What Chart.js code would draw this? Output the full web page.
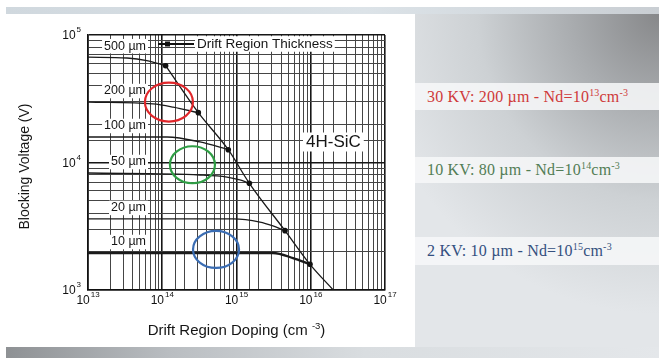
<!DOCTYPE html>
<html>
<head>
<meta charset="utf-8">
<script src="https://cdn.jsdelivr.net/npm/chart.js"></script>
<style>
  html, body { margin: 0; padding: 0; background: #fff; }
  body { width: 659px; height: 358px; position: relative; overflow: hidden; }
  #topBand { position: absolute; left: 6px; top: 7px; width: 653px; height: 7px;
    background: linear-gradient(to right, #d0d8de, #dce3e8 55%, #c9ced3); }
  #side { position: absolute; left: 415px; top: 14px; width: 244px; height: 333px;
    background: radial-gradient(ellipse 120% 90% at 100% 0%, #87888a 0%, #a9acaf 30%, #cdd1d4 62%, #e3e6e9 100%); }
  #bottomBand { position: absolute; left: 6px; top: 347px; width: 653px; height: 11px;
    background: linear-gradient(to right, #8e9194, #b9bdc1 25%, #d9dde0 55%, #e4e7ea); }
  .note { position: absolute; left: 415px; width: 244px; box-sizing: border-box; padding-left: 12px;
    background: rgba(246, 247, 248, 0.88); white-space: nowrap; letter-spacing: 0.2px;
    font-family: "Liberation Serif", "Times New Roman", serif; font-size: 16px; }
  .note sup { font-size: 10px; line-height: 0; vertical-align: 6px; }
  #n1 { top: 83px; height: 27px; line-height: 27px; color: #cf3a3a; }
  #n2 { top: 157px; height: 26px; line-height: 26px; color: #527d55; }
  #n3 { top: 237px; height: 28px; line-height: 28px; color: #33507f; }
  #chartBox { position: absolute; left: 5px; top: 14px; width: 410px; height: 333px; }
</style>
</head>
<body>
<div id="topBand"></div>
<div id="side"></div>
<div id="bottomBand"></div>
<div class="note" id="n1">30 KV: 200 µm - Nd=10<sup>13</sup>cm<sup>-3</sup></div>
<div class="note" id="n2">10 KV: 80 µm - Nd=10<sup>14</sup>cm<sup>-3</sup></div>
<div class="note" id="n3">2 KV: 10 µm - Nd=10<sup>15</sup>cm<sup>-3</sup></div>
<div id="chartBox"><canvas id="bvChart" width="410" height="333"></canvas></div>

<script>
// drift region thickness curves: doping (cm^-3) vs blocking voltage (V)
const thicknessNames = ['500 µm', '200 µm', '100 µm', '50 µm', '20 µm', '10 µm'];
const doping500 = [1e13, 3.35e13, 6.2e13, 1.11e14];
const volts500  = [6.7e4, 6.6e4, 6.3e4, 5.74e4];
const doping200 = [1e13, 7.5e13, 1.4e14, 3.06e14];
const volts200  = [2.98e4, 2.88e4, 2.72e4, 2.46e4];
const doping100 = [1e13, 1.16e14, 3.22e14, 7.75e14];
const volts100  = [1.585e4, 1.585e4, 1.45e4, 1.26e4];
const doping50  = [1e13, 3.22e14, 7.45e14, 1.11e15, 1.49e15];
const volts50   = [8.27e3, 7.98e3, 7.69e3, 7.3e3, 6.87e3];
const doping20  = [1e13, 8.98e14, 2.07e15, 3.1e15, 4.5e15];
const volts20   = [3.61e3, 3.61e3, 3.41e3, 3.18e3, 2.92e3];
const doping10  = [1e13, 3.1e15, 5.77e15, 9.77e15];
const volts10   = [1.95e3, 1.95e3, 1.78e3, 1.59e3];

// non punch-through limit
const dopingLimit = [1.11e14, 3.06e14, 7.75e14, 1.49e15, 4.5e15, 9.77e15, 2.01e16];
const voltsLimit  = [5.74e4, 2.46e4, 1.26e4, 6.87e3, 2.92e3, 1.59e3, 1.0e3];

// highlighted design points
const ringColors = ['#e0262a', '#2f9e45', '#3b6db3'];
const ringDoping = [1.23e14, 2.55e14, 5.3e14];
const ringVolts  = [2.98e4, 9.6e3, 2.08e3];

// decade tick labels (powers of ten)
const xTickExp = [13, 14, 15, 16, 17];
const yTickExp = [3, 4, 5];

const curves = [
  [doping500, volts500], [doping200, volts200], [doping100, volts100],
  [doping50, volts50], [doping20, volts20], [doping10, volts10]
];

const SANS = '"Liberation Sans", Arial, sans-serif';

function toPoints(xs, ys) {
  return xs.map((v, i) => ({ x: v, y: ys[i] }));
}

function isDecade(v) {
  const l = Math.log10(v);
  return Math.abs(l - Math.round(l)) < 1e-6;
}

const datasets = curves.map((c, k) => ({
  label: thicknessNames[k],
  data: toPoints(c[0], c[1]),
  showLine: true,
  borderColor: '#1a1a1a',
  borderWidth: k === 5 ? 2.3 : 1.3,
  cubicInterpolationMode: 'monotone',
  pointRadius: ctx => ctx.dataIndex === ctx.dataset.data.length - 1 ? 2.8 : 0,
  pointBackgroundColor: '#111',
  pointBorderWidth: 0
}));
datasets.push({
  label: 'limit',
  data: toPoints(dopingLimit, voltsLimit),
  showLine: true,
  borderColor: '#1a1a1a',
  borderWidth: 1.3,
  cubicInterpolationMode: 'monotone',
  pointRadius: 0
});

// text with a white patch behind it so grid lines don't run through
function boxedText(ctx, text, x, y, align, pad) {
  const w = ctx.measureText(text).width;
  const left = align === 'right' ? x - w : x;
  const h = parseFloat(ctx.font) + 2;
  ctx.fillStyle = '#fff';
  ctx.fillRect(left - pad, y - h / 2, w + pad * 2, h);
  ctx.fillStyle = '#151515';
  ctx.textAlign = 'left';
  ctx.fillText(text, left, y);
}

// "10" with a raised exponent
function powerLabel(ctx, exp, x, y, align) {
  ctx.font = '12px ' + SANS;
  const wb = ctx.measureText('10').width;
  ctx.font = '8px ' + SANS;
  const we = ctx.measureText(String(exp)).width;
  const total = wb + we + 1;
  let left = align === 'right' ? x - total : x - total / 2;
  ctx.fillStyle = '#111';
  ctx.textAlign = 'left';
  ctx.textBaseline = 'middle';
  ctx.font = '12px ' + SANS;
  ctx.fillText('10', left, y);
  ctx.font = '8px ' + SANS;
  ctx.fillText(String(exp), left + wb + 1, y - 6);
}

const overlay = {
  id: 'overlay',
  afterDraw(chart) {
    const { ctx, chartArea: a } = chart;
    const xs = chart.scales.x, ys = chart.scales.y;
    ctx.save();

    // thickness labels
    ctx.font = '12.5px ' + SANS;
    ctx.textBaseline = 'middle';
    curves.forEach((c, k) => {
      const py = ys.getPixelForValue(c[1][0]) - 11;
      boxedText(ctx, thicknessNames[k], a.left + 58, py, 'right', 2);
    });

    // legend-like arrow for the dots
    ctx.strokeStyle = '#111';
    ctx.lineWidth = 2;
    ctx.beginPath();
    ctx.moveTo(a.left + 70, a.top + 9);
    ctx.lineTo(a.left + 106, a.top + 9);
    ctx.stroke();
    ctx.fillStyle = '#111';
    ctx.fillRect(a.left + 77, a.top + 6.5, 5, 5);
    ctx.font = '13.5px ' + SANS;
    boxedText(ctx, 'Drift Region Thickness', a.left + 109, a.top + 9, 'left', 2);

    ctx.font = '17px ' + SANS;
    boxedText(ctx, '4H-SiC', a.left + 218, a.top + 107, 'left', 3);

    // highlight rings
    ctx.lineWidth = 2.2;
    const radii = [[24, 19.5], [22.5, 18.5], [23, 18.5]];
    ringColors.forEach((col, i) => {
      ctx.strokeStyle = col;
      ctx.beginPath();
      ctx.ellipse(xs.getPixelForValue(ringDoping[i]), ys.getPixelForValue(ringVolts[i]),
        radii[i][0], radii[i][1], 0, 0, Math.PI * 2);
      ctx.stroke();
    });

    // tick labels
    xTickExp.forEach(e => powerLabel(ctx, e, xs.getPixelForValue(Math.pow(10, e)), a.bottom + 11, 'center'));
    yTickExp.forEach(e => powerLabel(ctx, e, a.left - 7, ys.getPixelForValue(Math.pow(10, e)) + 1, 'right'));

    // axis titles
    ctx.fillStyle = '#151515';
    ctx.textBaseline = 'middle';
    ctx.font = '15px ' + SANS;
    const t1 = 'Drift Region Doping (cm ', t2 = '-3', t3 = ')';
    const w1 = ctx.measureText(t1).width, w3 = ctx.measureText(t3).width;
    ctx.font = '9.5px ' + SANS;
    const w2 = ctx.measureText(t2).width;
    let tx = (a.left + a.right) / 2 - (w1 + w2 + w3) / 2;
    const ty = a.bottom + 41;
    ctx.textAlign = 'left';
    ctx.font = '15px ' + SANS;
    ctx.fillText(t1, tx, ty);
    ctx.font = '9.5px ' + SANS;
    ctx.fillText(t2, tx + w1, ty - 5);
    ctx.font = '15px ' + SANS;
    ctx.fillText(t3, tx + w1 + w2, ty);

    ctx.translate(20, (a.top + a.bottom) / 2 + 4);
    ctx.rotate(-Math.PI / 2);
    ctx.textAlign = 'center';
    ctx.font = '14px ' + SANS;
    ctx.fillText('Blocking Voltage (V)', 0, 0);

    ctx.restore();
  }
};

function gridColor(c) {
  return c.tick && isDecade(c.tick.value) ? '#161616' : '#454545';
}
function gridWidth(c) {
  return c.tick && isDecade(c.tick.value) ? 1.6 : 1;
}

new Chart(document.getElementById('bvChart'), {
  type: 'scatter',
  data: { datasets: datasets },
  options: {
    responsive: false,
    animation: false,
    events: [],
    layout: { padding: { top: 21, right: 30, left: 0, bottom: 0 } },
    plugins: { legend: { display: false }, tooltip: { enabled: false } },
    scales: {
      x: {
        type: 'logarithmic', min: 1e13, max: 1e17,
        ticks: { display: false, autoSkip: false },
        grid: { color: gridColor, lineWidth: gridWidth, drawTicks: false },
        border: { display: true, color: '#111', width: 1.6 },
        afterFit: s => { s.height = 57; }
      },
      y: {
        type: 'logarithmic', min: 1e3, max: 1e5,
        ticks: { display: false, autoSkip: false },
        grid: { color: gridColor, lineWidth: gridWidth, drawTicks: false },
        border: { display: true, color: '#111', width: 1.6 },
        afterFit: s => { s.width = 83; }
      }
    }
  },
  plugins: [overlay]
});
</script>
</body>
</html>
